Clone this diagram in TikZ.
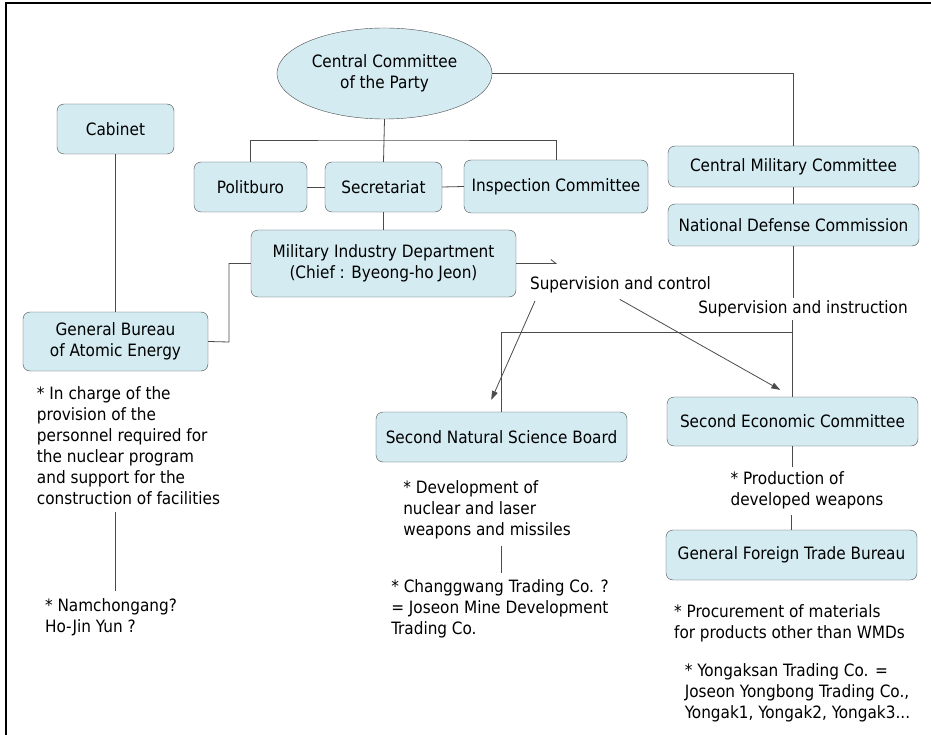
\documentclass[tikz,border=0pt]{standalone}
\usepackage{fontspec}
\setmainfont{DejaVu Sans Condensed}
\usepackage{xcolor}
\usetikzlibrary{shapes.geometric, arrows.meta, calc}
\definecolor{boxblue}{RGB}{211,235,241}
\definecolor{linegray}{RGB}{75,75,75}

\begin{document}
\begin{tikzpicture}[x=1pt, y=-1pt, font=\fontsize{17}{21}\selectfont,
    unit/.style={draw=linegray, fill=boxblue, rounded corners=7pt, align=center, inner sep=2pt, minimum height=50pt},
    note/.style={align=left, inner sep=0pt},
    link/.style={draw=linegray, line width=0.8pt},
    tie/.style={link, shorten <=7pt, shorten >=7pt},
    pointer/.style={link, -{Triangle[length=9pt, width=6pt]}}]
    \useasboundingbox (0,0) rectangle (931,735);
    % frame
    \draw[line width=1.4pt] (6,735) -- (6,3) -- (931,3);

    % party
    \node[ellipse, draw=linegray, fill=boxblue, minimum width=205, minimum height=91, align=center] (ccp) at (384.5,73.5) {Central Committee\\of the Party};
    \node[unit, minimum width=113] (pol) at (250.5,187) {Politburo};
    \node[unit, minimum width=117] (sec) at (383.5,187) {Secretariat};
    \node[unit, minimum width=184, minimum height=53] (insp) at (556,186.5) {Inspection Committee};
    \node[unit, minimum width=265, minimum height=67] (mid) at (383.5,263.5) {Military Industry Department\\(Chief : Byeong-ho Jeon)};
    \coordinate (bar) at (384,140);
    \draw[link] (ccp.south) -- (sec.north);
    \draw[link] (pol.north) |- (bar) -| (insp.north);
    \draw[link] (pol.east) -- (sec.west);
    \draw[link] (sec.east) -- (insp.west);
    \draw[link] (sec.south) -- (mid.north);

    % cabinet
    \node[unit, minimum width=117] (cab) at (115.5,129) {Cabinet};
    \node[unit, minimum width=185, minimum height=59] (gbae) at (115.5,341.5) {General Bureau\\of Atomic Energy};
    \coordinate (kink) at (229,342);
    \draw[link] (cab.south) -- (gbae.north);
    \draw[link] (mid.west) -| (kink) -- (gbae.east);
    \node[note] (gnote) at (128.5,446) {* In charge of the\\provision of the\\personnel required for\\the nuclear program\\and support for the\\construction of facilities};
    \node[note] (nam) at (111,617) {* Namchongang?\\Ho-Jin Yun ?};
    \draw[tie] (gnote.south -| gbae.south) -- (nam.north -| gbae.south);

    % military
    \node[unit, minimum width=251, minimum height=41] (cmc) at (793.5,166.5) {Central Military Committee};
    \node[unit, minimum width=251, minimum height=42] (ndc) at (793.5,225) {National Defense Commission};
    \draw[link] (ccp.east) -| (cmc.north);
    \draw[link] (cmc) -- (ndc);
    \node[inner sep=3pt] (sup2) at (803,309) {Supervision and instruction};
    \node[inner sep=3pt] (sup1) at (620.5,285) {Supervision and control};
    \coordinate (tick) at (557,263.5);
    \draw[link, -{Straight Barb[left, length=5pt, width=8pt]}] (mid.east) -- (tick);

    % second economy
    \node[unit, minimum width=251] (snsb) at (501.5,437) {Second Natural Science Board};
    \node[unit, minimum width=251, minimum height=49] (econ) at (792.5,421.5) {Second Economic Committee};
    \node[unit, minimum width=251] (gftb) at (791.5,555) {General Foreign Trade Bureau};
    \coordinate (jn) at (794,332);
    \draw[link] (ndc.south) -- (ndc.south |- sup2.north);
    \draw[link] (econ.north |- sup2.south) -- (econ.north);
    \draw[link] (econ.north |- jn) -| (snsb.north);
    \draw[pointer, shorten <=5pt, shorten >=13pt] ([xshift=-83.5pt]sup1.south) -- ([xshift=-15.5pt]snsb.north);
    \draw[pointer, shorten <=6pt, shorten >=14pt] ([xshift=-6pt]sup1.south) -- (econ.north);

    % notes
    \node[note] (dnote) at (487,510) {* Development of\\nuclear and laser\\weapons and missiles};
    \node[note] (cnote) at (500,609) {* Changgwang Trading Co. ?\\= Joseon Mine Development\\Trading Co.};
    \draw[tie] (dnote.south -| snsb.south) -- (cnote.north -| snsb.south);
    \node[note] (pnote) at (807,490) {* Production of\\developed weapons};
    \draw[link, shorten >=4pt] (econ.south) -- (pnote.north -| econ.south);
    \draw[link, shorten <=6pt] (pnote.south -| gftb.north) -- (gftb.north);
    \node[note] (mnote) at (789.5,623) {* Procurement of materials\\for products other than WMDs};
    \node[note] (ynote) at (797.5,693) {* Yongaksan Trading Co. =\\Joseon Yongbong Trading Co.,\\Yongak1, Yongak2, Yongak3...};
\end{tikzpicture}
\end{document}
